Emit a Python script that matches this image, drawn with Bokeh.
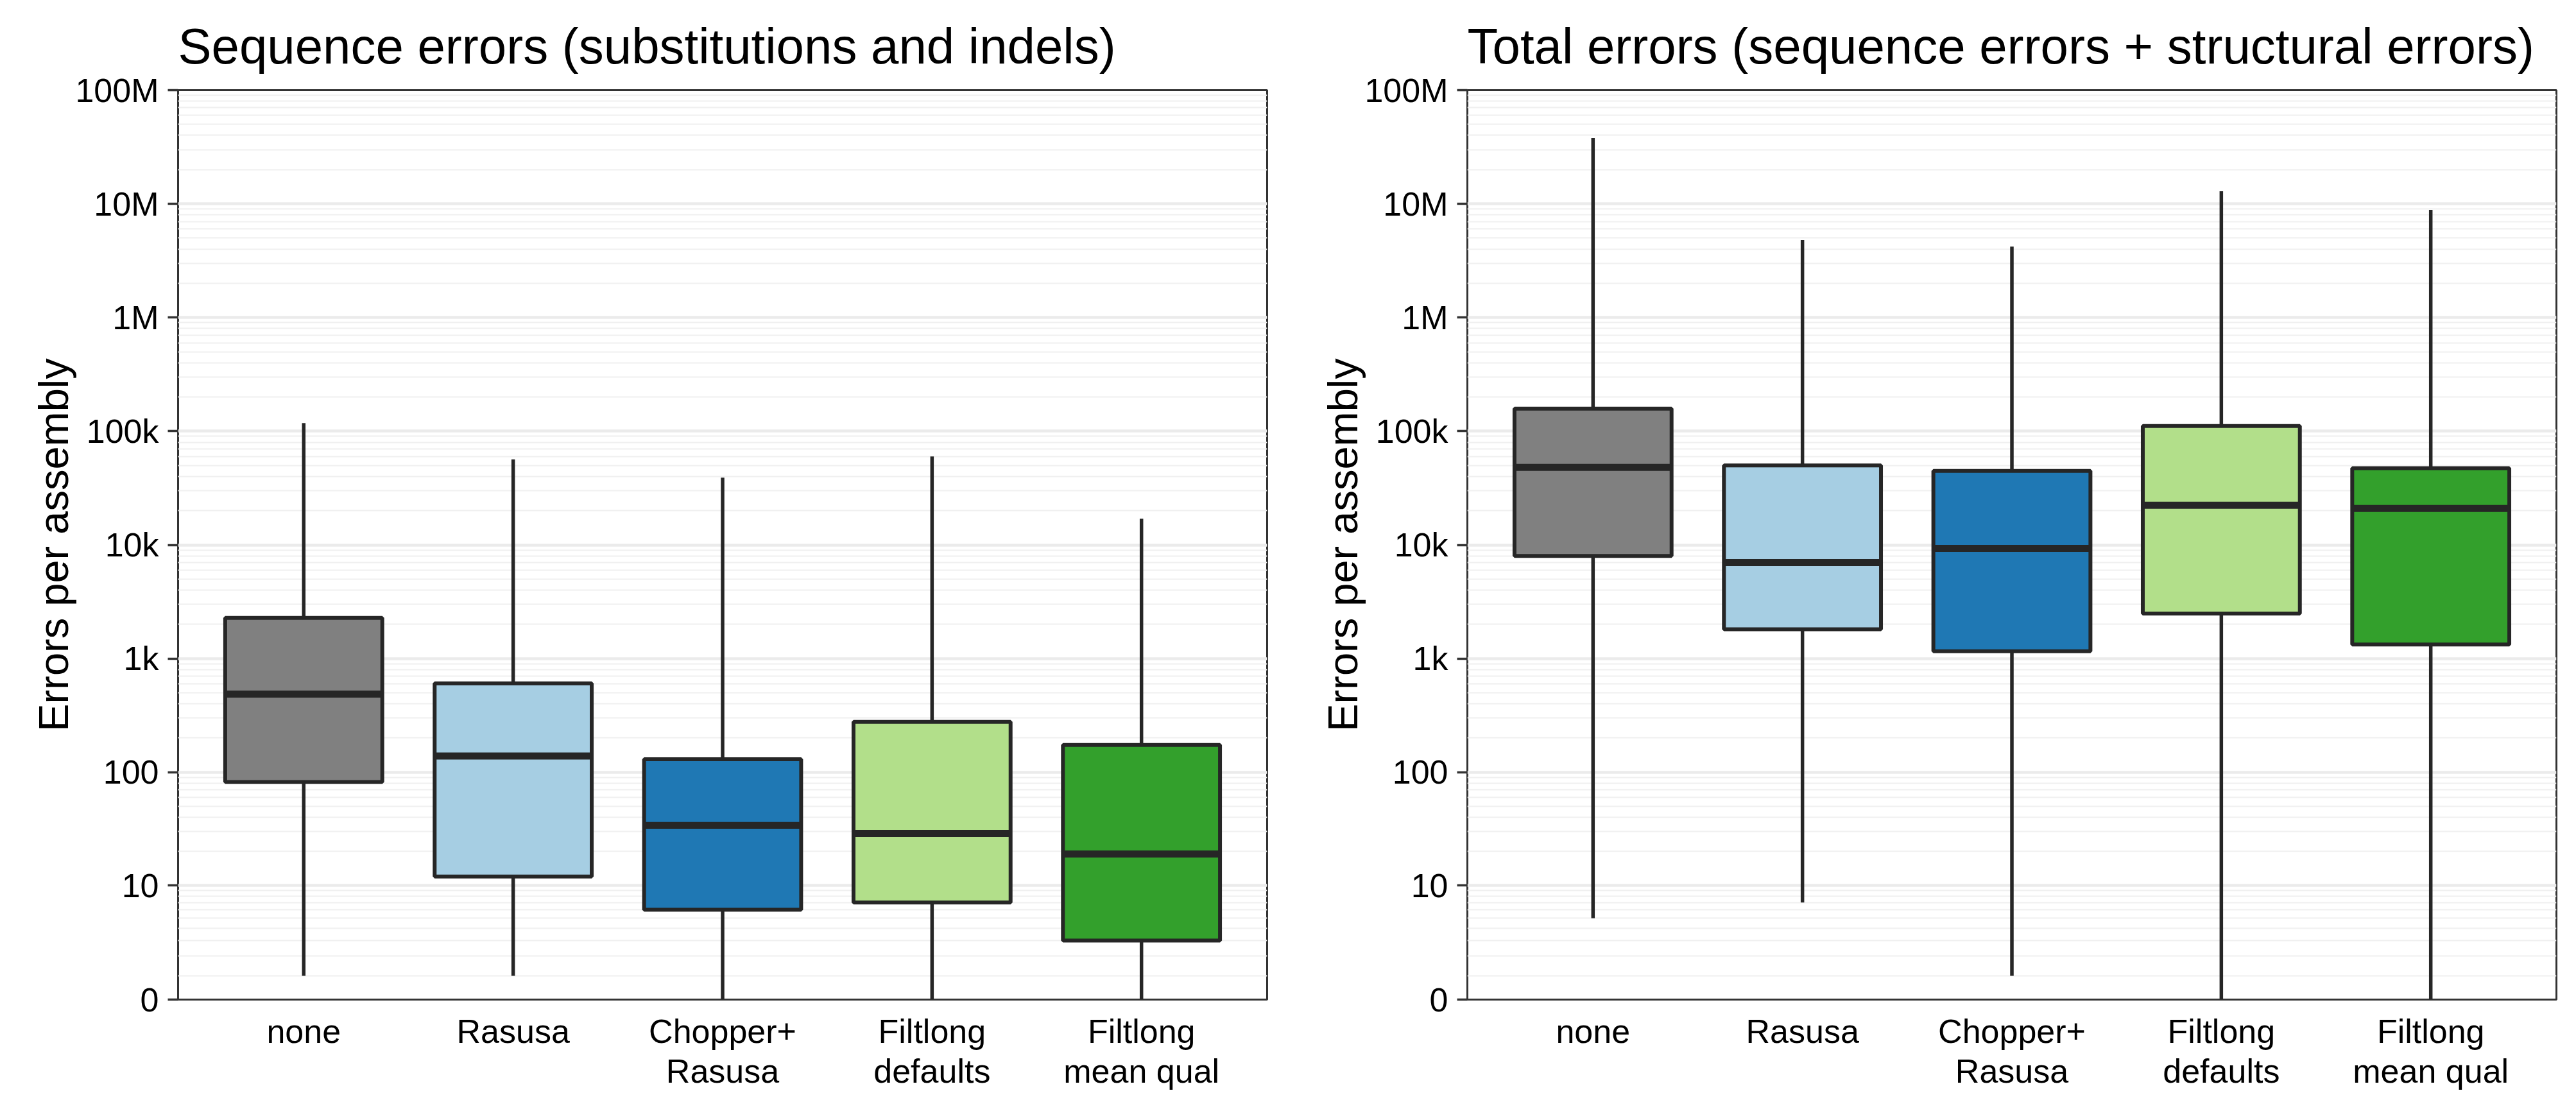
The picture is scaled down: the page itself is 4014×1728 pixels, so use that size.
import numpy as np
from bokeh.plotting import figure
from bokeh.models import FactorRange, Range1d, FixedTicker, CustomJSTickFormatter, ColumnDataSource
from bokeh.layouts import row
from bokeh.embed import file_html
from bokeh.resources import INLINE

# ---------------- data ----------------
categories = ["none", "Rasusa", "Chopper+\nRasusa", "Filtlong\ndefaults", "Filtlong\nmean qual"]
colors = ["#808080", "#A6CEE3", "#1F78B4", "#B2DF8A", "#33A02C"]

# Sequence errors (substitutions and indels)
seq_min = [1, 1, 0, 0, 0]
seq_q1 = [82, 12, 6, 7, 3]
seq_med = [487, 139, 34, 29, 19]
seq_q3 = [2280, 606, 130, 277, 174]
seq_max = [118000, 56500, 39000, 60000, 17000]

# Total errors (sequence errors + structural errors)
tot_min = [5, 7, 1, 0, 0]
tot_q1 = [8000, 1810, 1160, 2490, 1330]
tot_med = [48000, 7000, 9300, 22300, 20900]
tot_q3 = [158000, 50000, 44700, 111000, 47300]
tot_max = [38000000, 4800000, 4200000, 12900000, 8850000]

tick_values = [0, 10, 100, 1000, 10000, 100000, 1000000, 10000000, 100000000]
tick_labels = ["0", "10", "100", "1k", "10k", "100k", "1M", "10M", "100M"]
minor_values = list(range(1, 10)) + [k * 10 ** n for n in range(1, 8) for k in range(2, 10)]

FONT = "Liberation Sans"


def pseudo_log(v):
    return np.arcsinh(np.asarray(v, dtype=float) / 2.0) / np.log(10)


def make_panel(title, mins, q1s, meds, q3s, maxs, border_left, border_right):
    src = ColumnDataSource(dict(
        cat=categories, color=colors,
        lo=pseudo_log(mins), q1=pseudo_log(q1s), med=pseudo_log(meds),
        q3=pseudo_log(q3s), hi=pseudo_log(maxs),
    ))
    p = figure(
        x_range=FactorRange(*categories, range_padding=0.1, range_padding_units="absolute"),
        y_range=Range1d(0, float(pseudo_log(1e8))),
        frame_width=1697, frame_height=1417,
        min_border_left=border_left, min_border_right=border_right,
        min_border_top=139, min_border_bottom=150,
        output_backend="svg", toolbar_location=None, title=title,
    )
    p.background_fill_color = "white"
    p.border_fill_color = "white"
    p.outline_line_color = "#333333"
    p.outline_line_width = 3

    # whiskers
    p.segment(x0="cat", y0="lo", x1="cat", y1="q1", source=src, line_color="#262626", line_width=5.5)
    p.segment(x0="cat", y0="q3", x1="cat", y1="hi", source=src, line_color="#262626", line_width=5.5)
    # boxes
    p.vbar(x="cat", bottom="q1", top="q3", width=0.75, source=src, fill_color="color",
           line_color="#262626", line_width=6)
    # medians
    p.rect(x="cat", y="med", width=0.75, height=11, height_units="screen", source=src,
           fill_color="#262626", line_color=None)

    # y axis
    ticks = [float(t) for t in pseudo_log(tick_values)]
    minors = [float(t) for t in pseudo_log(minor_values)]
    p.yaxis.ticker = FixedTicker(ticks=ticks, minor_ticks=minors)
    p.yaxis.formatter = CustomJSTickFormatter(args=dict(vals=ticks, labels=tick_labels), code="""
        let best = 0, d = 1e9;
        for (let i = 0; i < vals.length; i++) {
            const dd = Math.abs(vals[i] - tick);
            if (dd < d) { d = dd; best = i; }
        }
        return labels[best];
    """)
    p.yaxis.axis_line_color = None
    p.yaxis.major_tick_line_color = "#333333"
    p.yaxis.major_tick_line_width = 3.5
    p.yaxis.major_tick_out = 16
    p.yaxis.major_tick_in = 0
    p.yaxis.minor_tick_line_color = None
    p.yaxis.major_label_standoff = 14
    p.yaxis.major_label_text_font = FONT
    p.yaxis.major_label_text_font_size = "52px"
    p.yaxis.major_label_text_color = "black"
    p.yaxis.axis_label = "Errors per assembly"
    p.yaxis.axis_label_text_font = FONT
    p.yaxis.axis_label_text_font_size = "65px"
    p.yaxis.axis_label_text_font_style = "normal"
    p.yaxis.axis_label_text_color = "black"
    p.yaxis.axis_label_standoff = -6

    # x axis
    p.xaxis.axis_line_color = None
    p.xaxis.major_tick_line_color = None
    p.xaxis.minor_tick_line_color = None
    p.xaxis.major_tick_out = 0
    p.xaxis.major_tick_in = 0
    p.xaxis.major_label_standoff = 20
    p.xaxis.major_label_text_font = FONT
    p.xaxis.major_label_text_font_size = "52px"
    p.xaxis.major_label_text_color = "black"
    p.xaxis.major_label_text_line_height = 1.08

    # grid
    p.xgrid.grid_line_color = None
    p.ygrid.grid_line_color = "#EBEBEB"
    p.ygrid.grid_line_width = 4.5
    p.ygrid.minor_grid_line_color = "#F0F0F0"
    p.ygrid.minor_grid_line_width = 2
    p.ygrid.level = "underlay"

    # title
    p.title.text_font = FONT
    p.title.text_font_size = "78px"
    p.title.text_font_style = "normal"
    p.title.text_color = "black"
    p.title.align = "left"
    p.title.standoff = 50
    return p


p1 = make_panel("Sequence errors (substitutions and indels)",
                seq_min, seq_q1, seq_med, seq_q3, seq_max, 277, 26)
p2 = make_panel("Total errors (sequence errors + structural errors)",
                tot_min, tot_q1, tot_med, tot_q3, tot_max, 286, 20)

layout = row(p1, p2)
open("out.html", "w").write(file_html(layout, INLINE))
